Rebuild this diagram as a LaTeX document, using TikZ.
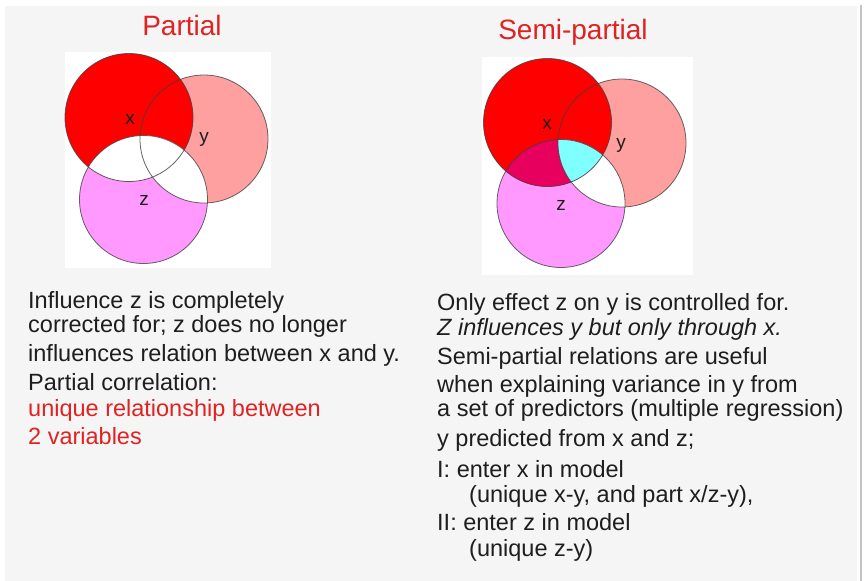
\documentclass[tikz,border=0pt]{standalone}
\usepackage{fontspec}
\setmainfont{Liberation Sans}
\definecolor{panel}{HTML}{F5F5F5}
\definecolor{edgeline}{HTML}{C4C4C4}
\definecolor{txtcol}{HTML}{1E1E1E}
\definecolor{redtxt}{HTML}{E02222}
\definecolor{xfill}{HTML}{FF0000}
\definecolor{yfill}{HTML}{FFA0A0}
\definecolor{zfill}{HTML}{FF99FF}
\definecolor{xzfill}{HTML}{E8005E}
\definecolor{cyanfill}{HTML}{80FFFF}
\begin{document}
\begin{tikzpicture}[x=1pt,y=-1pt,
  txt/.style={anchor=base west, inner sep=0pt, font=\fontsize{23.5}{28}\selectfont, text=txtcol},
  redline/.style={txt, text=redtxt},
  titletxt/.style={anchor=base, inner sep=0pt, font=\fontsize{28}{32}\selectfont, text=redtxt},
  lbl/.style={inner sep=0pt, font=\fontsize{19}{22}\selectfont, text=txtcol},
  ring/.style={draw=black!75, draw opacity=0.8, line width=0.8pt}]
\useasboundingbox (0,0) rectangle (865,581);
\fill[white] (0,0) rectangle (865,581);
\fill[panel] (5,6) rectangle (857,581);
\draw[edgeline, line width=2pt] (861,5) -- (861,581);
% white squares
\fill[white] (65,52) rectangle (271,268);
\fill[white] (482,57) rectangle (693,275);
% ---------- Partial ----------
\coordinate (PX) at (129,117.5);
\coordinate (PY) at (204,139);
\coordinate (PZ) at (143.5,199.5);
\fill[zfill] (PZ) circle[radius=64];
\fill[yfill] (PY) circle[radius=64];
\fill[xfill] (PX) circle[radius=64];
\begin{scope}
  \clip (PZ) circle[radius=64];
  \fill[white] (PX) circle[radius=64];
  \fill[white] (PY) circle[radius=64];
\end{scope}
\draw[ring] (PX) circle[radius=64];
\draw[ring] (PY) circle[radius=64];
\draw[ring] (PZ) circle[radius=64];
\node[lbl] (plx) at (130,119) {x};
\node[lbl] (ply) at (204,139) {y};
\node[lbl] (plz) at (144,200) {z};
% ---------- Semi-partial ----------
\coordinate (SX) at (547.5,122.5);
\coordinate (SY) at (622,143);
\coordinate (SZ) at (561,203.5);
\fill[zfill] (SZ) circle[radius=64];
\fill[yfill] (SY) circle[radius=64];
\fill[xfill] (SX) circle[radius=64];
\begin{scope}
  \clip (SY) circle[radius=64];
  \fill[white] (SZ) circle[radius=64];
\end{scope}
\begin{scope}
  \clip (SX) circle[radius=64];
  \fill[xzfill] (SZ) circle[radius=64];
  \clip (SY) circle[radius=64];
  \fill[cyanfill] (SZ) circle[radius=64];
\end{scope}
\draw[ring] (SX) circle[radius=64];
\draw[ring] (SY) circle[radius=64];
\draw[ring] (SZ) circle[radius=64];
\node[lbl] (slx) at (547,124) {x};
\node[lbl] (sly) at (621,145) {y};
\node[lbl] (slz) at (561,205) {z};
% ---------- Titles ----------
\node[titletxt] (t1) at (182,35) {Partial};
\node[titletxt] (t2) at (573,39) {Semi-partial};
% ---------- Left text ----------
\node[txt] (l1) at (28,308) {Influence z is completely};
\node[txt] (l2) at (28,332) {corrected for; z does no longer};
\node[txt] (l3) at (28,361) {influences relation between x and y.};
\node[txt] (l4) at (28,390) {Partial correlation:};
\node[redline] (l5) at (28,416) {unique relationship between};
\node[redline] (l6) at (28,444) {2 variables};
% ---------- Right text ----------
\node[txt] (r1) at (437,310) {Only effect z on y is controlled for.};
\node[txt, font=\fontsize{23.5}{28}\selectfont\itshape] (r2) at (437,335) {Z influences y but only through x.};
\node[txt] (r3) at (437,364) {Semi-partial relations are useful};
\node[txt] (r4) at (437,392) {when explaining variance in y from};
\node[txt] (r5) at (437,416) {a set of predictors (multiple regression)};
\node[txt] (r6) at (437,446) {y predicted from x and z;};
\node[txt] (r7) at (437,477) {I: enter x in model};
\node[txt] (r8) at (469,502) {(unique x-y, and part x/z-y),};
\node[txt] (r9) at (437,530) {II: enter z in model};
\node[txt] (r10) at (469,556) {(unique z-y)};
\end{tikzpicture}
\end{document}
